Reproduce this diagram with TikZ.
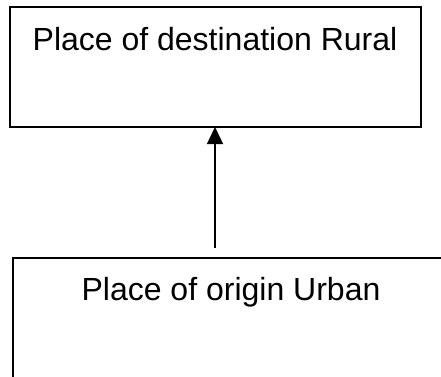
\documentclass[tikz,border=0pt]{standalone}
\usepackage{fontspec}
\setmainfont{Liberation Sans}
\usetikzlibrary{arrows.meta}
\begin{document}
\begin{tikzpicture}[x=1pt,y=-1pt,
  boxstyle/.style={draw=black,line width=1.4pt,fill=white,inner sep=0pt,outer sep=0pt},
  lbl/.style={font=\fontsize{32}{36}\selectfont,anchor=base,inner sep=0pt},
  arr/.style={line width=1.4pt,-{Triangle[length=17pt,width=16pt]}}]
\useasboundingbox (0,0) rectangle (441,376);
\begin{scope}
\clip (0,0) rectangle (441,376);
\node[boxstyle,minimum width=411pt,minimum height=120pt] (destbox) at (215.5,67) {};
\node[lbl] (dest) at (215,50) {Place of destination Rural};
\node[boxstyle,minimum width=447pt,minimum height=142pt] (origbox) at (236.5,329) {};
\node[lbl] (orig) at (231,300) {Place of origin Urban};
\end{scope}
\coordinate (tail) at (215,248);
\draw[arr] (tail) -- (destbox.south -| tail);
\end{tikzpicture}
\end{document}
